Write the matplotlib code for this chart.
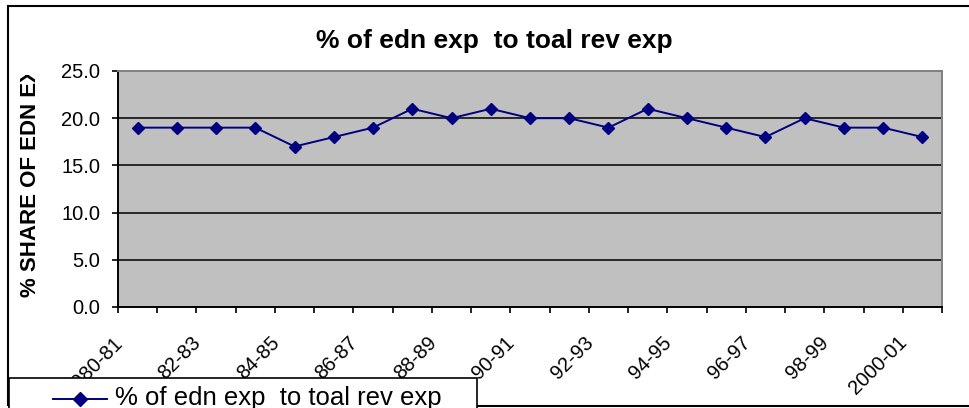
import matplotlib
matplotlib.use("Agg")
import matplotlib.pyplot as plt
from matplotlib.patches import Rectangle
from matplotlib.lines import Line2D
from matplotlib.transforms import Bbox, TransformedBbox, ScaledTranslation

plt.rcParams['font.family'] = ['Liberation Sans', 'DejaVu Sans']

years = ['1980-81', '81-82', '82-83', '83-84', '84-85', '85-86', '86-87', '87-88',
         '88-89', '89-90', '90-91', '91-92', '92-93', '93-94', '94-95', '95-96',
         '96-97', '97-98', '98-99', '99-2000', '2000-01']
edn_share = [19, 19, 19, 19, 17, 18, 19, 21, 20, 21, 20, 20, 19, 21, 20, 19, 18, 20, 19, 19, 18]
y_ticks = [0.0, 5.0, 10.0, 15.0, 20.0, 25.0]
series_name = '% of edn exp  to toal rev exp'

W, H = 970, 408
DPI = 100
fig = plt.figure(figsize=(W / DPI, H / DPI), dpi=DPI)
fig.patch.set_facecolor('white')

def fx(px):
    return px / W

def fy(py):
    return 1 - py / H

ax = fig.add_axes([fx(118), fy(307), fx(942) - fx(118), fy(71) - fy(307)])
ax.set_facecolor('#C0C0C0')

x = list(range(len(years)))
ax.plot(x, edn_share, color='#000080', lw=1.4, marker='D', markersize=6.2,
        markerfacecolor='#000080', markeredgecolor='#000080', zorder=3)

ax.set_xlim(-0.5, len(years) - 0.5)
ax.set_ylim(0, 25)
ax.set_yticks(y_ticks)
ax.set_yticklabels([f'{v:.1f}' for v in y_ticks], fontsize=14.5)
for v in y_ticks[1:-1]:
    ax.axhline(v, color='black', lw=1.1, zorder=1)

# category boundaries carry the tick marks
ax.set_xticks([i - 0.5 for i in range(len(years) + 1)])
ax.set_xticklabels([])
ax.tick_params(axis='x', length=4.3, width=1.2, color='black', direction='out')
ax.tick_params(axis='y', length=4.3, width=1.2, pad=8.6)

# slanted category labels on every other category
label_offset = ScaledTranslation(-25 / DPI, -26 / DPI, fig.dpi_scale_trans)
for i in x[::2]:
    ax.text(i, 0, years[i], transform=ax.get_xaxis_transform() + label_offset,
            rotation=45, rotation_mode='anchor', ha='right', va='top',
            fontsize=14.5, clip_on=False)

for side in ['left', 'bottom']:
    ax.spines[side].set_color('black')
    ax.spines[side].set_linewidth(1.4)
for side in ['top', 'right']:
    ax.spines[side].set_color('#808080')
    ax.spines[side].set_linewidth(1.4)

fig.text(fx(494), fy(48), series_name, ha='center', va='baseline',
         fontsize=19, fontweight='bold')

ylab = fig.text(fx(31), fy(297), '% SHARE OF EDN EXP', rotation=90,
                ha='center', va='bottom', fontsize=16, fontweight='bold')
ylab.set_clip_box(TransformedBbox(Bbox([[0, 0], [1, fy(75)]]), fig.transFigure))
ylab.set_clip_on(True)

# chart frame
fig.patches.append(Rectangle((fx(8), fy(406)), fx(975) - fx(8), fy(6) - fy(406),
                             transform=fig.transFigure, fill=False,
                             edgecolor='black', lw=1.5, zorder=0))

# legend box, running off the bottom edge
fig.patches.append(Rectangle((fx(9), fy(420)), fx(477) - fx(9), fy(378) - fy(420),
                             transform=fig.transFigure, facecolor='white',
                             edgecolor='black', lw=1.2, zorder=5))
fig.lines.append(Line2D([fx(53), fx(107)], [fy(399), fy(399)], transform=fig.transFigure,
                        color='#000080', lw=1.4, zorder=6))
fig.lines.append(Line2D([fx(80)], [fy(399)], transform=fig.transFigure,
                        color='#000080', marker='D', markersize=7.2, lw=0, zorder=6))
fig.text(fx(115), fy(405.5), series_name, ha='left', va='baseline', fontsize=18.5, zorder=6)

fig.savefig('out.png', dpi=DPI)
